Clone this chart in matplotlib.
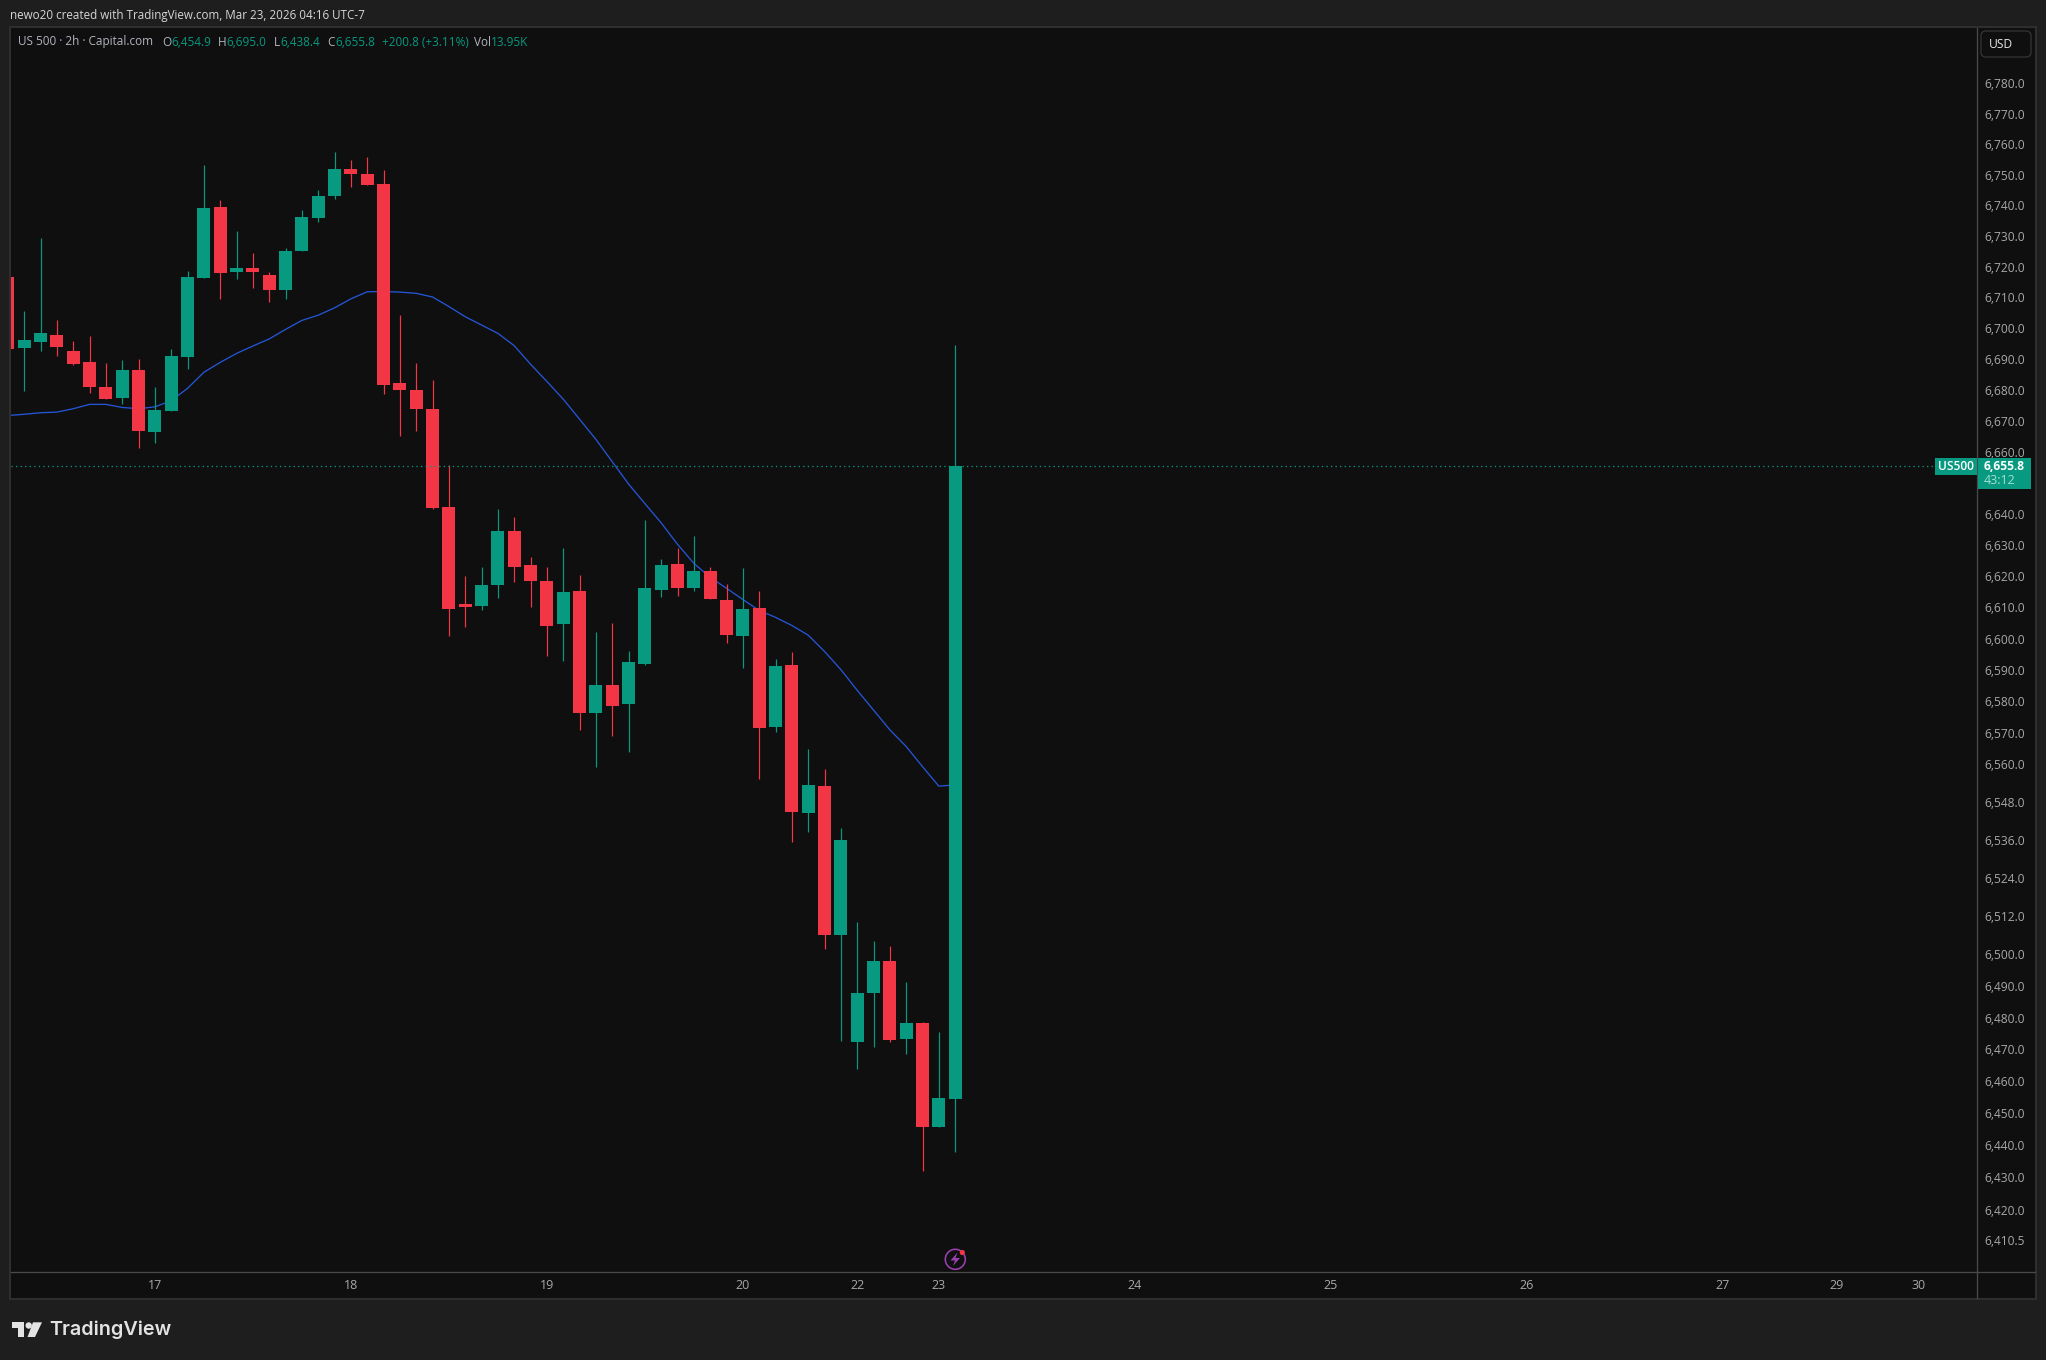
import matplotlib
matplotlib.use("Agg")
import matplotlib.pyplot as plt
from matplotlib.patches import Rectangle, FancyBboxPatch, Polygon, Circle
from matplotlib.transforms import Affine2D
from matplotlib.ticker import NullLocator, FixedLocator, FixedFormatter

# 2h candles, US 500 (Capital.com)
opens = [6717.1, 6694.0, 6696.0, 6698.3, 6693.1, 6689.5, 6681.4, 6677.9, 6686.9, 6666.9,
         6673.6, 6691.1, 6716.8, 6739.9, 6718.7, 6720.0, 6717.7, 6712.9, 6725.6, 6736.3,
         6743.5, 6752.3, 6750.7, 6747.4, 6682.7, 6680.4, 6674.3, 6642.6, 6611.5, 6610.9,
         6617.6, 6635.0, 6624.0, 6618.9, 6605.2, 6615.7, 6576.8, 6585.7, 6579.6, 6592.3,
         6616.0, 6624.4, 6616.7, 6622.1, 6612.8, 6601.3, 6610.2, 6572.3, 6592.0, 6545.0,
         6553.6, 6506.4, 6472.9, 6488.2, 6498.3, 6473.8, 6478.8, 6446.3, 6454.9]
highs = [6717.1, 6706.0, 6729.8, 6703.1, 6696.3, 6697.9, 6689.2, 6690.2, 6690.5, 6681.4,
         6693.7, 6719.0, 6753.6, 6742.2, 6732.1, 6724.9, 6718.7, 6726.5, 6738.9, 6745.5,
         6757.9, 6755.3, 6756.2, 6752.0, 6704.7, 6689.2, 6683.7, 6656.2, 6620.4, 6623.4,
         6642.0, 6639.4, 6626.6, 6623.4, 6629.5, 6620.8, 6602.6, 6605.5, 6596.5, 6638.5,
         6626.0, 6629.5, 6633.3, 6623.4, 6617.9, 6623.1, 6615.7, 6594.0, 6596.2, 6565.3,
         6558.8, 6540.1, 6510.6, 6504.6, 6503.0, 6491.7, 6479.1, 6476.0, 6695.0]
lows = [6693.7, 6680.2, 6693.1, 6691.5, 6688.5, 6679.5, 6677.5, 6675.9, 6661.7, 6663.3,
        6673.6, 6687.2, 6716.8, 6709.9, 6716.5, 6713.5, 6709.0, 6709.9, 6725.6, 6735.0,
        6742.5, 6746.4, 6747.1, 6679.1, 6665.6, 6667.2, 6642.0, 6601.3, 6604.2, 6609.6,
        6613.4, 6618.6, 6610.6, 6594.8, 6593.2, 6571.4, 6559.6, 6569.4, 6564.4, 6592.1,
        6613.8, 6614.1, 6615.7, 6613.1, 6599.1, 6591.1, 6555.8, 6570.7, 6535.8, 6539.0,
        6502.1, 6473.2, 6464.4, 6471.3, 6472.9, 6469.1, 6432.5, 6446.3, 6438.4]
closes = [6693.7, 6696.6, 6698.9, 6694.4, 6688.9, 6681.4, 6677.5, 6686.9, 6667.2, 6674.0,
          6691.5, 6717.1, 6739.6, 6718.4, 6720.0, 6718.7, 6712.9, 6725.6, 6736.7, 6743.5,
          6752.3, 6750.7, 6747.1, 6682.0, 6680.4, 6674.3, 6642.3, 6609.9, 6610.6, 6617.6,
          6635.0, 6623.4, 6618.9, 6604.4, 6615.4, 6576.8, 6585.7, 6579.0, 6593.0, 6616.7,
          6624.0, 6616.7, 6622.1, 6613.1, 6601.6, 6609.9, 6572.0, 6591.7, 6545.3, 6553.9,
          6506.4, 6536.4, 6488.2, 6498.3, 6473.5, 6478.8, 6446.3, 6455.3, 6655.8]
# Moving average overlay, one value per candle
ma_values = [6672.2, 6672.6, 6673.1, 6673.3, 6674.4, 6675.8, 6675.8, 6674.8, 6674.4, 6675.0,
             6677.0, 6681.0, 6686.2, 6689.4, 6692.3, 6694.7, 6697.0, 6700.1, 6703.0, 6704.7,
             6707.1, 6710.0, 6712.3, 6712.4, 6712.2, 6711.8, 6710.6, 6707.5, 6704.2, 6701.5,
             6698.8, 6694.8, 6688.8, 6683.2, 6677.5, 6671.0, 6664.5, 6657.3, 6650.1, 6643.8,
             6637.6, 6630.7, 6624.6, 6620.1, 6616.6, 6613.0, 6609.5, 6607.3, 6604.7, 6601.6,
             6596.4, 6590.6, 6584.0, 6577.7, 6571.4, 6566.1, 6559.7, 6553.5, 6553.9]

price_ticks = [6780, 6770, 6760, 6750, 6740, 6730, 6720, 6710, 6700, 6690, 6680, 6670, 6660,
               6640, 6630, 6620, 6610, 6600, 6590, 6580, 6570, 6560, 6548, 6536, 6524, 6512,
               6500, 6490, 6480, 6470, 6460, 6450, 6440, 6430, 6420, 6410.5]
date_positions = [9, 21, 33, 45, 52, 57, 69, 81, 93, 105, 112, 117]
date_labels = ["17", "18", "19", "20", "22", "23", "24", "25", "26", "27", "29", "30"]

UP = "#089981"
DOWN = "#F23645"
PANE = "#0F0F0F"
FRAME = "#1E1E1E"
EDGE = "#2E2E2E"
AXIS = "#4A4A4A"
LABEL = "#A8A8A8"
UI_FONT = ["Open Sans", "DejaVu Sans"]

W, H = 2046, 1360
fig = plt.figure(figsize=(W / 100, H / 100), dpi=100, facecolor=FRAME)
# Overlay furniture is placed in screen pixels, y measured from the top
screen = Affine2D().scale(1, -1).translate(0, H)


def pt(px):
    return px * 0.72


fig.add_artist(Rectangle((10, 27), 2026, 1272, facecolor=PANE, edgecolor=EDGE,
                         linewidth=1.5, transform=screen, zorder=-5))

ax = fig.add_axes([10.5 / W, 1 - 1272 / H, 1966.5 / W, 1244 / H], facecolor=PANE)
ax.set_yscale("log")
ax.set_ylim(6401.1, 6798.6)
ax.set_xlim(0.155, 120.57)

x = list(range(len(opens)))
colors = [UP if c >= o else DOWN for o, c in zip(opens, closes)]
ax.vlines(x, lows, highs, colors=colors, linewidth=pt(1.2), zorder=2)
bottoms = [min(o, c) for o, c in zip(opens, closes)]
heights = [abs(c - o) for o, c in zip(opens, closes)]
ax.bar(x, heights, bottom=bottoms, width=0.796, color=colors, linewidth=0, zorder=3)
ax.plot(x, ma_values, color="#2556D8", linewidth=pt(1.3), zorder=1, solid_joinstyle="round")

last_close = closes[-1]
ax.hlines(last_close, 0.155, 118.0, colors=UP, linestyles=(0, (1, 2.5)), linewidth=pt(1.3), zorder=4)

ax.yaxis.tick_right()
ax.yaxis.set_major_locator(FixedLocator(price_ticks))
ax.yaxis.set_major_formatter(FixedFormatter([f"{p:,.1f}" for p in price_ticks]))
ax.yaxis.set_minor_locator(NullLocator())
ax.tick_params(axis="y", length=0, pad=pt(7), labelcolor=LABEL, labelsize=pt(12))
for tick in ax.yaxis.get_major_ticks():
    tick.label2.set_family(UI_FONT)
    # Labels sit slightly above their price level
    tick.label2.set_transform(tick.label2.get_transform() + Affine2D().translate(0, 1.5))
ax.set_xticks(date_positions, date_labels)
ax.tick_params(axis="x", length=0, pad=pt(7), labelcolor=LABEL, labelsize=pt(12.5))
for lab in ax.get_xticklabels():
    lab.set_family(UI_FONT)
for side in ("top", "left"):
    ax.spines[side].set_visible(False)
for side in ("right", "bottom"):
    ax.spines[side].set_color(AXIS)
    ax.spines[side].set_linewidth(pt(1.3))

fig.add_artist(plt.Line2D([1977, 1977], [1272, 1298], color=AXIS, linewidth=pt(1.3), transform=screen))
fig.add_artist(plt.Line2D([1977, 2035], [1272, 1272], color=AXIS, linewidth=pt(1.3), transform=screen))

# Header line above the chart pane
fig.text(10, 15, "newo20 created with TradingView.com, Mar 23, 2026 04:16 UTC-7", transform=screen,
         color="#D6D6D6", fontsize=pt(11.6), va="center", family=UI_FONT)

# Symbol legend: one text per run of the same colour
legend_runs = [(18, "US 500 · 2h · Capital.com", "#B2B5BE"),
               (162.5, "O", "#B2B5BE"), (171, "6,454.9", UP),
               (218, "H", "#B2B5BE"), (226, "6,695.0", UP),
               (273.5, "L", "#B2B5BE"), (280, "6,438.4", UP),
               (327, "C", "#B2B5BE"), (335, "6,655.8", UP),
               (381.5, "+200.8 (+3.11%)", UP),
               (474, "Vol", "#B2B5BE"), (491, "13.95K", UP)]
for lx, s, col in legend_runs:
    fig.text(lx, 42, s, transform=screen, color=col, fontsize=pt(11.8), va="center", family=UI_FONT)

# Currency button
fig.add_artist(FancyBboxPatch((1983, 33), 46, 22, boxstyle="round,pad=2,rounding_size=5",
                              facecolor=PANE, edgecolor="#363636", linewidth=pt(1.2), transform=screen))
fig.text(1989, 44.5, "USD", transform=screen, color="#E8E8E8", fontsize=pt(12), va="center", family=UI_FONT)

# Last-price tags
fig.add_artist(Rectangle((1935, 458), 42, 16.5, facecolor=UP, linewidth=0, transform=screen))
fig.text(1956, 466.5, "US500", transform=screen, color="#FFFFFF", fontsize=pt(12), fontweight="semibold",
         ha="center", va="center", family=UI_FONT)
fig.add_artist(Rectangle((1977.5, 458), 53.5, 31, facecolor=UP, linewidth=0, transform=screen))
fig.text(1984, 466, f"{last_close:,.1f}", transform=screen, color="#FFFFFF", fontsize=pt(12), fontweight="bold",
         va="center", family=UI_FONT)
fig.text(1984, 480, "43:12", transform=screen, color="#A5DDD0", fontsize=pt(12.5), va="center", family=UI_FONT)

# Session-event marker on the time axis
fig.add_artist(Circle((955.3, 1259.3), 10, facecolor="none", edgecolor="#9C3FB0", linewidth=pt(1.6), transform=screen))
fig.add_artist(Polygon([(957.5, 1252.5), (950.5, 1260.5), (955, 1260.5), (953, 1266), (960, 1258),
                        (955.5, 1258)], closed=True, facecolor="#9C3FB0", linewidth=0, transform=screen))
fig.add_artist(Circle((962.3, 1252.5), 2.6, facecolor=DOWN, linewidth=0, transform=screen))

# Wordmark in the footer
logo = "#E3E3E3"
fig.add_artist(Polygon([(12, 1322.3), (24, 1322.3), (24, 1337), (18, 1337), (18, 1328.3), (12, 1328.3)],
                       closed=True, facecolor=logo, linewidth=0, transform=screen))
fig.add_artist(Circle((28.7, 1325.5), 3.2, facecolor=logo, linewidth=0, transform=screen))
fig.add_artist(Polygon([(33, 1322.3), (42, 1322.3), (35, 1337), (27.5, 1337)],
                       closed=True, facecolor=logo, linewidth=0, transform=screen))
fig.text(49, 1329.5, "TradingView", transform=screen, color=logo, fontsize=pt(19.8), fontweight="semibold",
         va="center", family=["Inter", "DejaVu Sans"])

fig.savefig("out.png", dpi=100, facecolor=FRAME)
